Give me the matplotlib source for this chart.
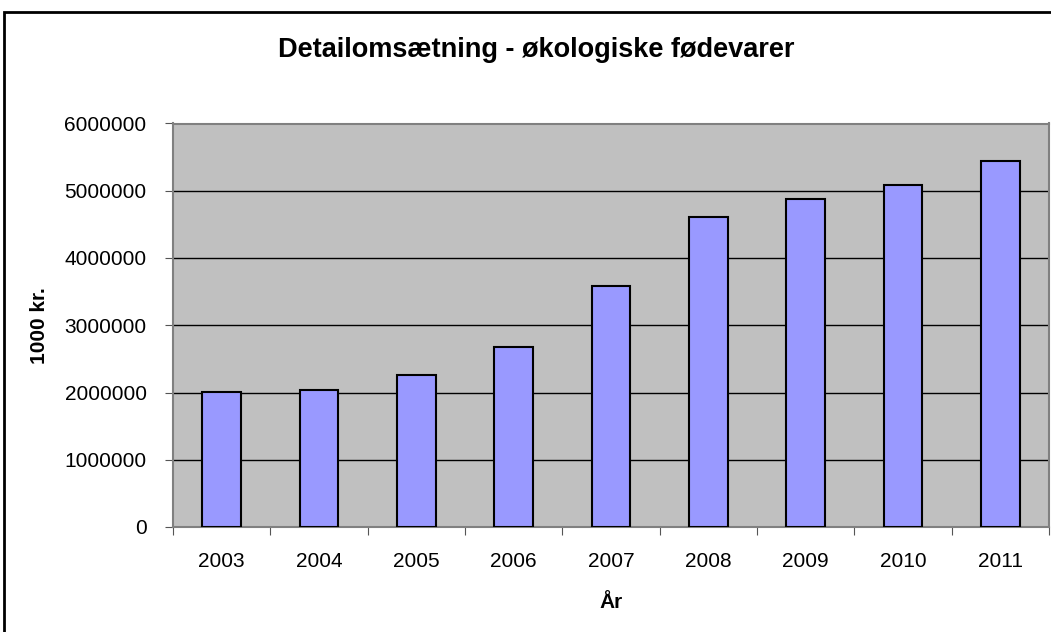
import matplotlib
matplotlib.use("Agg")
import matplotlib.pyplot as plt
from matplotlib.patches import Rectangle
from matplotlib.ticker import FixedLocator

plt.rcParams['font.family'] = ['Liberation Sans', 'DejaVu Sans']

years = ['2003', '2004', '2005', '2006', '2007', '2008', '2009', '2010', '2011']
sales = [2005000, 2030000, 2267000, 2683000, 3579000, 4614000, 4876000, 5079000, 5441000]
y_ticks = [0, 1000000, 2000000, 3000000, 4000000, 5000000, 6000000]

fig = plt.figure(figsize=(10.51, 6.32), dpi=100)
ax = fig.add_axes([173 / 1051, 1 - 527 / 632, 876 / 1051, 403.5 / 632])

# outer chart frame (cut off on right and bottom like the reference)
fig.patches.append(Rectangle((4 / 1051, -0.1), 1.2, (632 - 12) / 632 + 0.1,
                             transform=fig.transFigure, fill=False,
                             edgecolor='black', linewidth=2, clip_on=False))

ax.set_facecolor('#C0C0C0')
x = list(range(len(years)))
ax.bar(x, sales, width=0.40, color='#9999FF', edgecolor='black', linewidth=1.5, zorder=3)

ax.set_xlim(-0.5, len(years) - 0.5)
ax.set_ylim(0, 6000000)
ax.set_yticks(y_ticks)
ax.set_yticklabels([str(v) for v in y_ticks], fontsize=15)
ax.yaxis.grid(True, color='black', linewidth=1, zorder=1)
ax.set_axisbelow(True)

# ticks between categories, labels at centers
ax.xaxis.set_major_locator(FixedLocator([i - 0.5 for i in range(len(years) + 1)]))
ax.xaxis.set_major_formatter(plt.NullFormatter())
ax.xaxis.set_minor_locator(FixedLocator(x))
ax.set_xticklabels(years, minor=True, fontsize=15)
ax.tick_params(axis='x', which='major', length=6, color='#555555', direction='out')
ax.tick_params(axis='x', which='minor', length=0, pad=18)
ax.tick_params(axis='y', length=6, color='#555555', pad=13)

for side in ['left', 'bottom', 'top', 'right']:
    ax.spines[side].set_color('#808080')
    ax.spines[side].set_linewidth(1.5)

ax.set_xlabel('År', fontsize=15, fontweight='bold', labelpad=16)
ax.set_ylabel('1000 kr.', fontsize=15, fontweight='bold', labelpad=11)
fig.text(536 / 1051, 1 - 50 / 632, 'Detailomsætning - økologiske fødevarer',
         ha='center', va='center', fontsize=19.5, fontweight='bold')

fig.savefig('out.png', dpi=100)
